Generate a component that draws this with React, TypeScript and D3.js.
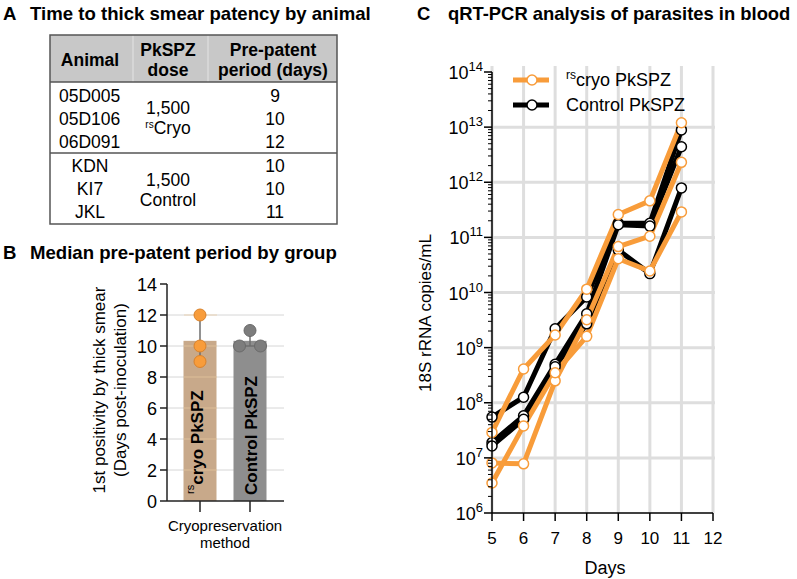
import React from "react";
import * as d3 from "d3";

// ---------- Panel A data ----------
const tableHeaders = [["Animal"], ["PkSPZ", "dose"], ["Pre-patent", "period (days)"]];
const cryoAnimals = ["05D005", "05D106", "06D091"];
const cryoPeriods = [9, 10, 12];
const controlAnimals = ["KDN", "KI7", "JKL"];
const controlPeriods = [10, 10, 11];

// ---------- Panel B data ----------
const groups = ["cryo", "control"];
const groupLabels = ["cryo PkSPZ", "Control PkSPZ"];
const bTicks = [0, 2, 4, 6, 8, 10, 12, 14];

// ---------- Panel C data ----------
const days = [5, 6, 7, 8, 9, 10, 11];
const xTicks = [5, 6, 7, 8, 9, 10, 11, 12];
const cryo1 = [2.9e7, 4.1e8, 1.7e9, 1.15e10, 2.6e11, 4.6e11, 1.2e13];
const cryo2 = [8.1e6, 7.8e6, 2.5e8, 3.2e9, 6.8e10, 1.05e11, 2.3e12];
const cryo3 = [3.5e6, 3.8e7, 3.5e8, 1.6e9, 4.1e10, 2.45e10, 2.9e11];
const ctrl1 = [5.5e7, 1.26e8, 2.2e9, 8.3e9, 1.8e11, 1.8e11, 8.9e12];
const ctrl2 = [1.9e7, 5.8e7, 5.0e8, 4.1e9, 1.7e11, 1.6e11, 4.4e12];
const ctrl3 = [1.65e7, 5.0e7, 4.5e8, 2.7e9, 5.9e10, 2.2e10, 7.9e11];
const exps = [6, 7, 8, 9, 10, 11, 12, 13, 14];

const ORANGE = "#F89C3A";
const FONT = "'Liberation Sans', Arial, sans-serif";

function PanelA() {
  const x0 = 50, x1 = 337, yTop = 35, yHead = 82, ySep = 153, yBot = 224;
  const colC = [90, 168, 273];
  const rowY = [96, 119, 142, 166, 189, 212];
  return (
    <g fontFamily={FONT}>
      <text x={3} y={20} fontSize={18.6} fontWeight="bold">A</text>
      <text x={30} y={20} fontSize={18.6} fontWeight="bold">Time to thick smear patency by animal</text>
      <rect x={x0} y={yTop} width={x1 - x0} height={yHead - yTop} fill="#c8c8c8" />
      <line x1={133} x2={133} y1={yTop} y2={yHead} stroke="#e4e4e4" strokeWidth={1} />
      <line x1={208} x2={208} y1={yTop} y2={yHead} stroke="#e4e4e4" strokeWidth={1} />
      <rect x={x0} y={yTop} width={x1 - x0} height={yBot - yTop} fill="none" stroke="#555" strokeWidth={1.5} />
      <line x1={x0} x2={x1} y1={yHead} y2={yHead} stroke="#555" strokeWidth={1.5} />
      <line x1={x0} x2={x1} y1={ySep} y2={ySep} stroke="#555" strokeWidth={1.5} />
      {tableHeaders.map((h, i) =>
        h.length === 1 ? (
          <text key={i} x={colC[i]} y={66} fontSize={17.5} fontWeight="bold" textAnchor="middle">{h[0]}</text>
        ) : (
          <g key={i}>
            <text x={colC[i]} y={56} fontSize={17.5} fontWeight="bold" textAnchor="middle">{h[0]}</text>
            <text x={colC[i]} y={76} fontSize={17.5} fontWeight="bold" textAnchor="middle">{h[1]}</text>
          </g>
        )
      )}
      {cryoAnimals.map((a, i) => (
        <g key={a}>
          <text x={59} y={rowY[i] + 6} fontSize={17.5}>{a}</text>
          <text x={275} y={rowY[i] + 6} fontSize={17.5} textAnchor="middle">{cryoPeriods[i]}</text>
        </g>
      ))}
      {controlAnimals.map((a, i) => (
        <g key={a}>
          <text x={90} y={rowY[i + 3] + 6} fontSize={17.5} textAnchor="middle">{a}</text>
          <text x={275} y={rowY[i + 3] + 6} fontSize={17.5} textAnchor="middle">{controlPeriods[i]}</text>
        </g>
      ))}
      <text x={168} y={114} fontSize={17.5} textAnchor="middle">1,500</text>
      <text x={168} y={134} fontSize={17.5} textAnchor="middle">
        <tspan fontSize={10} dy={-6}>rs</tspan>
        <tspan dy={6}>Cryo</tspan>
      </text>
      <text x={168} y={186} fontSize={17.5} textAnchor="middle">1,500</text>
      <text x={168} y={206} fontSize={17.5} textAnchor="middle">Control</text>
    </g>
  );
}

function PanelB() {
  const y = d3.scaleLinear().domain([0, 14]).range([501, 284]);
  const x = d3.scalePoint<string>().domain(groups).range([200, 250]);
  const bw = 33;
  const vals = [cryoPeriods, controlPeriods];
  const fills = ["#C8A98A", "#8E8E8E"];
  const dotFill = [ORANGE, "#7d7d7d"];
  const dotStroke = ["#d9822b", "#6a6a6a"];
  const axL = 167, axR = 284;
  return (
    <g fontFamily={FONT}>
      <text x={3} y={259} fontSize={18.6} fontWeight="bold">B</text>
      <text x={30} y={259} fontSize={18.6} fontWeight="bold">Median pre-patent period by group</text>
      {bTicks.filter((t) => t > 0 && t < 14).map((t) => (
        <line key={t} x1={axL} x2={axR} y1={y(t)} y2={y(t)} stroke="#d6d6d6" strokeWidth={1} />
      ))}
      {groups.map((g, i) => {
        const m = d3.mean(vals[i])!;
        const cx = x(g)!;
        return (
          <rect key={g} x={cx - bw / 2} y={y(m)} width={bw} height={y(0) - y(m)} fill={fills[i]} />
        );
      })}
      {bTicks.filter((t) => t > 0 && t < 14).map((t) => (
        <line key={"o" + t} x1={184} x2={217} y1={y(t)} y2={y(t)} stroke="#e9c9a0" strokeWidth={1} opacity={0.7} />
      ))}
      {/* bar labels */}
      <text transform={`translate(${x("cryo")! + 3},494) rotate(-90)`} fontSize={17}>
        <tspan fontSize={11} dy={-9}>rs</tspan>
        <tspan dy={9} fontWeight="bold">{groupLabels[0]}</tspan>
      </text>
      <text transform={`translate(${x("control")! + 7},495) rotate(-90)`} fontSize={17} fontWeight="bold">
        {groupLabels[1]}
      </text>
      {/* error bars + dots */}
      {groups.map((g, i) => {
        const cx = x(g)!;
        const mn = d3.min(vals[i])!;
        const mx = d3.max(vals[i])!;
        const counts: Record<number, number> = {};
        vals[i].forEach((v) => {
          counts[v] = (counts[v] || 0) + 1;
        });
        const seen: Record<number, number> = {};
        return (
          <g key={g}>
            <line x1={cx} x2={cx} y1={y(mn)} y2={y(mx)} stroke="#6e6e6e" strokeWidth={1.5} />
            <line x1={cx - 6} x2={cx + 6} y1={y(mn)} y2={y(mn)} stroke="#6e6e6e" strokeWidth={1.5} />
            <line x1={cx - 6} x2={cx + 6} y1={y(mx)} y2={y(mx)} stroke="#6e6e6e" strokeWidth={1.5} />
            {vals[i].map((v, j) => {
              const n = counts[v];
              const k = seen[v] || 0;
              seen[v] = k + 1;
              const dx = n > 1 ? (k - (n - 1) / 2) * 21 : 0;
              return (
                <circle key={j} cx={cx + dx} cy={y(v)} r={6} fill={dotFill[i]} stroke={dotStroke[i]} strokeWidth={1} />
              );
            })}
          </g>
        );
      })}
      {/* axes */}
      <line x1={axL} x2={axL} y1={y(14)} y2={y(0)} stroke="#222" strokeWidth={1.5} />
      <line x1={axL} x2={axR} y1={y(0)} y2={y(0)} stroke="#222" strokeWidth={1.5} />
      {bTicks.map((t) => (
        <g key={t}>
          <line x1={axL - 7} x2={axL} y1={y(t)} y2={y(t)} stroke="#222" strokeWidth={1.5} />
          <text x={axL - 10} y={y(t) + 6.5} fontSize={18} textAnchor="end">{t}</text>
        </g>
      ))}
      {groups.map((g) => (
        <line key={g} x1={x(g)!} x2={x(g)!} y1={y(0)} y2={y(0) + 11} stroke="#222" strokeWidth={1.5} />
      ))}
      <text x={225} y={531} fontSize={15} textAnchor="middle">Cryopreservation</text>
      <text x={225} y={548} fontSize={15} textAnchor="middle">method</text>
      <text transform="translate(105,390) rotate(-90)" fontSize={17} textAnchor="middle">1st positivity by thick smear</text>
      <text transform="translate(126,390) rotate(-90)" fontSize={17} textAnchor="middle">(Days post-inoculation)</text>
    </g>
  );
}

function PanelC() {
  const x = d3.scaleLinear().domain([5, 12]).range([492, 713]);
  const y = d3.scaleLog().domain([1e6, 1e14]).range([513, 72]);
  const line = d3
    .line<number>()
    .x((_, i) => x(days[i]))
    .y((d) => y(d));
  const ctrl = [ctrl1, ctrl2, ctrl3];
  const cryo = [cryo1, cryo2, cryo3];
  const minor: number[] = [];
  for (let e = 6; e < 14; e++) for (let m = 2; m <= 9; m++) minor.push(m * Math.pow(10, e));
  const series = [
    ...ctrl.map((s) => ({ s, c: "#000", w: 5 })),
    ...cryo.map((s) => ({ s, c: ORANGE, w: 5 })),
  ];
  return (
    <g fontFamily={FONT}>
      <text x={417} y={20} fontSize={18.4} fontWeight="bold">C</text>
      <text x={448} y={20} fontSize={18.4} fontWeight="bold">qRT-PCR analysis of parasites in blood</text>
      {/* grid */}
      {xTicks.map((d) => (
        <line key={d} x1={x(d)} x2={x(d)} y1={66} y2={513} stroke="#dedede" strokeWidth={3} />
      ))}
      {exps.filter((e) => e > 6 && e < 14).map((e) => (
        <line key={e} x1={492} x2={715} y1={y(Math.pow(10, e))} y2={y(Math.pow(10, e))} stroke="#dedede" strokeWidth={3} />
      ))}
      {/* legend */}
      <line x1={513} x2={549} y1={80} y2={80} stroke={ORANGE} strokeWidth={5} />
      <circle cx={532} cy={80} r={5} fill="#fff" stroke={ORANGE} strokeWidth={1.5} />
      <text x={566} y={86} fontSize={18}>
        <tspan fontSize={12} dy={-7}>rs</tspan>
        <tspan dy={7}>cryo PkSPZ</tspan>
      </text>
      <line x1={513} x2={549} y1={105} y2={105} stroke="#000" strokeWidth={5} />
      <circle cx={532} cy={105} r={5} fill="#fff" stroke="#000" strokeWidth={1.5} />
      <text x={566} y={111} fontSize={18}>Control PkSPZ</text>
      {/* series */}
      {series.map((o, i) => (
        <path key={i} d={line(o.s)!} fill="none" stroke={o.c} strokeWidth={o.w} strokeLinejoin="round" />
      ))}
      {series.map((o, i) => (
        <g key={"m" + i}>
          {o.s.map((v, j) => (
            <circle key={j} cx={x(days[j])} cy={y(v)} r={5} fill="#fff" stroke={o.c} strokeWidth={1.5} />
          ))}
        </g>
      ))}
      {/* axes */}
      <line x1={492} x2={492} y1={72} y2={513} stroke="#000" strokeWidth={1.5} />
      <line x1={492} x2={713} y1={513} y2={513} stroke="#000" strokeWidth={1.5} />
      {minor.map((v, i) => (
        <line key={i} x1={488} x2={492} y1={y(v)} y2={y(v)} stroke="#000" strokeWidth={1} />
      ))}
      {exps.map((e) => (
        <g key={e}>
          <line x1={484} x2={492} y1={y(Math.pow(10, e))} y2={y(Math.pow(10, e))} stroke="#000" strokeWidth={1.5} />
          <text x={483} y={y(Math.pow(10, e)) + 7} fontSize={18} textAnchor="end">
            10<tspan fontSize={13} dy={-8}>{e}</tspan>
          </text>
        </g>
      ))}
      {xTicks.map((d) => (
        <g key={d}>
          <line x1={x(d)} x2={x(d)} y1={513} y2={521} stroke="#000" strokeWidth={1.5} />
          <text x={x(d)} y={544} fontSize={17} textAnchor="middle">{d}</text>
        </g>
      ))}
      <text x={605} y={574} fontSize={18} textAnchor="middle">Days</text>
      <text transform="translate(431,313) rotate(-90)" fontSize={17} textAnchor="middle">18S rRNA copies/mL</text>
    </g>
  );
}

export default function App() {
  return (
    <div style={{ position: "absolute", left: 0, top: 0 }}>
      <svg width={797} height={579} style={{ display: "block", background: "#fff" }}>
        <PanelA />
        <PanelB />
        <PanelC />
      </svg>
    </div>
  );
}
